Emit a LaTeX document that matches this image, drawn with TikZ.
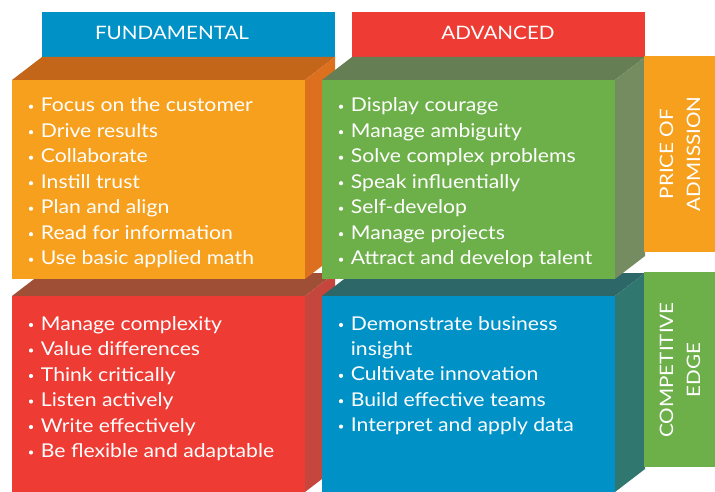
\documentclass[tikz,border=0pt]{standalone}
\usepackage{fontspec}
\setmainfont{Lato}[FakeStretch=1.115]
\definecolor{hdblue}{HTML}{0092C7}
\definecolor{hdred}{HTML}{EE3B33}
\definecolor{orfront}{HTML}{F6A01E}
\definecolor{ortop}{HTML}{C4661A}
\definecolor{orside}{HTML}{DD701F}
\definecolor{grfront}{HTML}{6DB04A}
\definecolor{grtop}{HTML}{657E54}
\definecolor{grside}{HTML}{748C60}
\definecolor{rdfront}{HTML}{EE3B33}
\definecolor{rdtop}{HTML}{9E4F36}
\definecolor{rdside}{HTML}{C5463C}
\definecolor{blfront}{HTML}{0092C7}
\definecolor{bltop}{HTML}{2E6767}
\definecolor{blside}{HTML}{30776F}
% block: front-left x, top y, width, height, front, top, side colours
\newcommand{\drawblock}[7]{%
  \fill[#6] (#1,#2) -- ++(30,-23) -- ++(#3,0) -- ++(-30,23) -- cycle;
  \fill[#7] ({#1+#3},#2) -- ++(30,-23) -- ++(0,#4) -- ++(-30,23) -- cycle;
  \fill[#5] (#1,#2) rectangle ++(#3,#4);
}
\tikzset{
  itemtext/.style={anchor=base west, inner sep=0pt, text=white,
    font=\fontsize{19}{25.5}\selectfont},
  bullet/.style={circle, fill=white, inner sep=0pt, minimum size=4.2pt},
  headtext/.style={anchor=base, inner sep=0pt, text=white,
    font=\fontsize{18.5}{25.5}\selectfont},
  sidetext/.style={rotate=90, align=center, inner sep=0pt, text=white,
    font=\fontsize{18.5}{27}\selectfont},
}
\begin{document}
\begin{tikzpicture}[x=1pt,y=-1pt]
\useasboundingbox (0,0) rectangle (715,492);
\fill[white] (0,0) rectangle (715,492);

% header bars
\fill[hdblue] (42,12) rectangle (335,57);
\fill[hdred] (352,12) rectangle (645,57);
\node[headtext] (fund) at (172,40) {FUNDAMENTAL};
\node[headtext] (adv) at (498,40) {ADVANCED};

% bottom row blocks
\drawblock{12}{296}{293}{196}{rdfront}{rdtop}{rdside}
\drawblock{322}{296}{293}{196}{blfront}{bltop}{blside}
% top row blocks
\drawblock{12}{80}{293}{199}{orfront}{ortop}{orside}
\drawblock{322}{80}{293}{199}{grfront}{grtop}{grside}

% side labels
\fill[orfront] (644,56) rectangle (715,252);
\fill[grfront] (644,272) rectangle (715,467);
\node[sidetext] (poa) at (680,154) {PRICE OF\\ADMISSION};
\node[sidetext] (ce) at (680,370) {COMPETITIVE\\EDGE};

% item lists
\foreach \t [count=\i from 0] in {Focus on the customer, Drive results, Collaborate,
    Instill trust, Plan and align, Read for information, Use basic applied math} {
  \node[bullet] (ob\i) at (31,{111.7-5+25.5*\i}) {};
  \node[itemtext] (ot\i) at (40.7,{111.7+25.5*\i}) {\t};
}
\foreach \t [count=\i from 0] in {Display courage, Manage ambiguity, Solve complex problems,
    Speak influentially, Self-develop, Manage projects, Attract and develop talent} {
  \node[bullet] (gb\i) at (341,{111.7-5+25.5*\i}) {};
  \node[itemtext] (gt\i) at (350.7,{111.7+25.5*\i}) {\t};
}
\foreach \t [count=\i from 0] in {Manage complexity, Value differences, Think critically,
    Listen actively, Write effectively, Be flexible and adaptable} {
  \node[bullet] (rb\i) at (31,{330-5+25.5*\i}) {};
  \node[itemtext] (rt\i) at (40.7,{330+25.5*\i}) {\t};
}
\foreach \t [count=\i from 0] in {Demonstrate business, insight, Cultivate innovation,
    Build effective teams, Interpret and apply data} {
  \node[itemtext] (bt\i) at (350.7,{330+25.4*\i}) {\t};
}
\foreach \i in {0,2,3,4} {
  \node[bullet] (bb\i) at (341,{330-5+25.4*\i}) {};
}
\end{tikzpicture}
\end{document}
